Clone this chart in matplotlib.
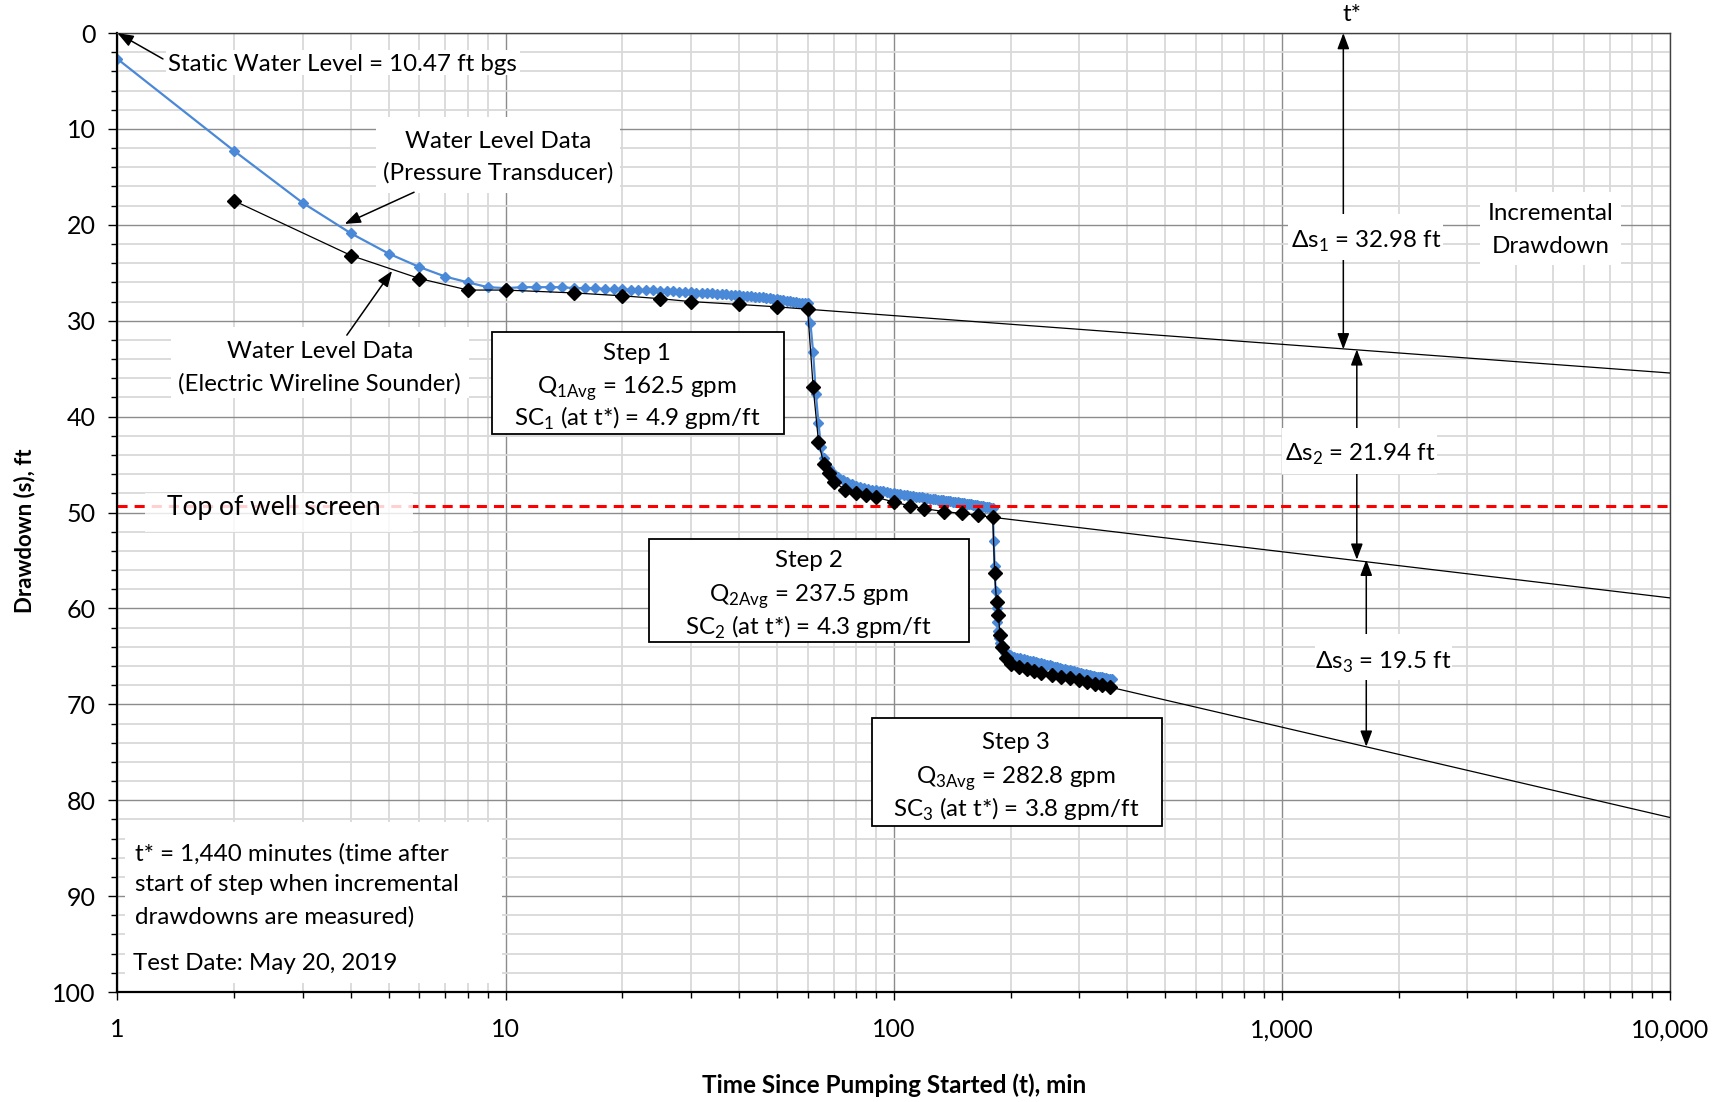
import matplotlib
matplotlib.use('Agg')
import matplotlib.pyplot as plt
import numpy as np
from matplotlib.patches import Rectangle
from matplotlib.ticker import MultipleLocator, LogLocator, FuncFormatter, NullFormatter

plt.rcParams['font.family'] = ['Lato', 'DejaVu Sans']

# pressure transducer readings (drawdown, ft)
pt_t1 = np.arange(1, 61)
pt_s1 = [2.7, 12.3, 17.7, 20.9, 23.0, 24.4, 25.4, 26.0, 26.5, 26.6,
         26.5, 26.5, 26.5, 26.5, 26.6, 26.6, 26.6, 26.7, 26.7, 26.7,
         26.8, 26.8, 26.8, 26.8, 26.9, 26.9, 26.9, 27.0, 27.0, 27.0,
         27.1, 27.1, 27.1, 27.1, 27.2, 27.2, 27.2, 27.3, 27.3, 27.3,
         27.4, 27.4, 27.4, 27.5, 27.5, 27.5, 27.6, 27.6, 27.7, 27.7,
         27.8, 27.8, 27.9, 27.9, 28.0, 28.0, 28.1, 28.1, 28.2, 28.2]

pt_t2 = list(range(61, 71)) + list(range(72, 181, 2))
pt_s2 = [30.2, 33.3, 37.6, 40.7, 43.2, 44.3, 44.9, 45.4, 45.8, 46.0,
         46.3, 46.6, 46.8, 47.0, 47.2, 47.3, 47.4, 47.5, 47.6, 47.7,
         47.8, 47.8, 47.9, 48.0, 48.0,
         48.1, 48.1, 48.2, 48.2, 48.3, 48.3, 48.4, 48.4, 48.4, 48.5,
         48.5, 48.6, 48.6, 48.6, 48.7, 48.7, 48.7, 48.8, 48.8, 48.8,
         48.9, 48.9, 48.9, 49.0, 49.0, 49.0, 49.1, 49.1, 49.1, 49.2,
         49.2, 49.2, 49.3, 49.3, 49.3, 49.4, 49.4, 49.4, 49.5, 49.5]

pt_t3 = list(range(181, 201)) + list(range(204, 365, 4))
pt_s3 = [53.0, 55.6, 58.2, 60.0, 61.4, 62.4, 63.1, 63.6, 63.9, 64.1,
         64.3, 64.4, 64.5, 64.6, 64.7, 64.8, 64.8, 64.9, 64.9, 65.0,
         65.1, 65.2, 65.2, 65.3, 65.4, 65.5, 65.5, 65.6, 65.7, 65.7,
         65.8, 65.9, 65.9, 66.0, 66.1, 66.1, 66.2, 66.3, 66.3, 66.4,
         66.4, 66.5, 66.5, 66.6, 66.7, 66.7, 66.8, 66.8, 66.9, 66.9,
         67.0, 67.0, 67.1, 67.1, 67.2, 67.2, 67.3, 67.3, 67.4, 67.4,
         67.4]

# electric wireline sounder readings
ws_t = [2, 4, 6, 8, 10, 15, 20, 25, 30, 40, 50, 60,
        62, 64, 66, 68, 70, 75, 80, 85, 90, 100, 110, 120, 135, 150, 165, 180,
        182, 184, 186, 188, 190, 195, 200, 210, 220, 230, 240, 255, 270, 285,
        300, 315, 330, 345, 360]
ws_s = [17.5, 23.2, 25.6, 26.8, 26.8, 27.1, 27.4, 27.7, 28.0, 28.3, 28.55, 28.8,
        36.9, 42.6, 44.9, 45.9, 46.8, 47.6, 48.0, 48.2, 48.4, 48.9, 49.3, 49.6,
        49.9, 50.1, 50.3, 50.5,
        56.3, 59.3, 60.7, 62.8, 64.0, 65.2, 65.8, 66.1, 66.3, 66.5, 66.7, 66.9,
        67.1, 67.3, 67.5, 67.7, 67.85, 68.0, 68.2]

# straight-line projection of each step out to 10,000 min
trend_t0 = [60, 180, 360]
trend_s0 = [28.8, 50.5, 68.2]
trend_t_end = 10000
trend_s_end = [35.45, 58.9, 81.8]

# incremental drawdown at t* for each step
delta_s = [32.98, 21.94, 19.5]
delta_t = [1440, 1560, 1650]

step_q = [162.5, 237.5, 282.8]
step_sc = [4.9, 4.3, 3.8]

screen_top = 49.3

fig = plt.figure(figsize=(17.22, 11.02), dpi=100)
ax = fig.add_axes([0.0682, 0.0998, 0.9016, 0.8702])

ax.set_xscale('log')
ax.set_xlim(1, 10000)
ax.set_ylim(100, 0)

ax.xaxis.set_major_locator(LogLocator(base=10))
ax.xaxis.set_minor_locator(LogLocator(base=10, subs=np.arange(2, 10)))
ax.xaxis.set_major_formatter(FuncFormatter(lambda v, p: '{:,.0f}'.format(v)))
ax.xaxis.set_minor_formatter(NullFormatter())
ax.yaxis.set_major_locator(MultipleLocator(10))
ax.yaxis.set_minor_locator(MultipleLocator(2))

ax.set_axisbelow(True)
ax.grid(which='minor', color='#d9d9d9', lw=1.3)
ax.grid(which='major', color='#8c8c8c', lw=1.0)

ax.tick_params(axis='both', which='both', direction='out', color='black', width=1.0)
ax.tick_params(axis='y', which='major', length=6.5, pad=9, labelsize=18)
ax.tick_params(axis='y', which='minor', length=4.5)
ax.tick_params(axis='x', which='major', length=6, pad=13, labelsize=18)
ax.tick_params(axis='x', which='minor', length=4)

for side in ['left', 'bottom']:
    ax.spines[side].set_linewidth(1.6)
    ax.spines[side].set_color('black')
for side in ['top', 'right']:
    ax.spines[side].set_linewidth(1.0)
    ax.spines[side].set_color('#404040')

ax.set_xlabel('Time Since Pumping Started (t), min', fontsize=17.5, fontweight='bold', va='center')
ax.xaxis.set_label_coords(0.5, -0.097)
ax.set_ylabel('Drawdown (s), ft', fontsize=16, fontweight='bold', va='center', ha='center')
ax.yaxis.set_label_coords(-0.0596, 0.4807)

# transducer data
blue = '#4a88d8'
pt_t = list(pt_t1) + pt_t2 + pt_t3
pt_s = pt_s1 + pt_s2 + pt_s3
ax.plot(pt_t, pt_s, color=blue, lw=1.6, marker='D', ms=5.0, mec=blue, mfc=blue, zorder=2)

ax.axhline(screen_top, color='#ff0000', lw=2.2, dashes=(3.3, 2.3), zorder=2.5)

# sounder data and projections
ax.plot(ws_t, ws_s, color='black', lw=0.9, marker='D', ms=7.2, mfc='black', mec='black', zorder=3)
for t0, s0, s1 in zip(trend_t0, trend_s0, trend_s_end):
    ax.plot([t0, trend_t_end], [s0, s1], color='black', lw=0.9, zorder=3)


def white_box(t0, t1, s0, s1, edge='none', lw=0.0, alpha=1.0, z=3.5):
    ax.add_patch(Rectangle((t0, s0), t1 - t0, s1 - s0, facecolor='white',
                           edgecolor=edge, lw=lw, alpha=alpha, zorder=z))


def arrow(tail, head, both=False, z=4):
    style = '<|-|>' if both else '-|>'
    ax.annotate('', xy=head, xytext=tail, annotation_clip=False,
                arrowprops=dict(arrowstyle=style + ',head_length=0.48,head_width=0.18',
                                mutation_scale=20, color='black', lw=1.1,
                                shrinkA=0, shrinkB=0), zorder=z)


fs = 17.4

# static water level
white_box(1.33, 10.9, 1.8, 4.4)
ax.text(1.349, 3.1, 'Static Water Level = 10.47 ft bgs', fontsize=fs,
        ha='left', va='center_baseline', zorder=5)
arrow((1.31, 2.7), (1, 0))

# series call-outs
white_box(4.64, 19.7, 8.8, 16.7)
ax.text(9.55, 11.1, 'Water Level Data', fontsize=fs, ha='center', va='center_baseline', zorder=5)
ax.text(9.55, 14.4, '(Pressure Transducer)', fontsize=fs, ha='center', va='center_baseline', zorder=5)
arrow((5.81, 16.6), (3.85, 19.9))

white_box(1.374, 8.05, 30.7, 38.1)
ax.text(3.32, 33.0, 'Water Level Data', fontsize=fs, ha='center', va='center_baseline', zorder=5)
ax.text(3.32, 36.4, '(Electric Wireline Sounder)', fontsize=fs, ha='center', va='center_baseline', zorder=5)
arrow((3.90, 31.5), (5.10, 24.8))

# top of screen label
white_box(1.177, 5.78, 48.0, 52.0, alpha=0.82)
ax.text(1.339, 49.2, 'Top of well screen', fontsize=19, ha='left',
        va='center_baseline', zorder=5)

# step boxes
step_boxes = [(9.23, 52.2, 31.14, 41.78, 21.8, [33.2, 36.6, 39.9]),
              (23.4, 156, 52.8, 63.5, 60.3, [54.8, 58.3, 61.7]),
              (88.1, 491, 71.4, 82.7, 206.5, [73.8, 77.3, 80.6])]
for i, (t0, t1, s0, s1, tc, rows) in enumerate(step_boxes):
    n = i + 1
    white_box(t0, t1, s0, s1, edge='black', lw=1.3)
    lines = ['Step %d' % n,
             'Q$_\\mathregular{%dAvg}$ = %.1f gpm' % (n, step_q[i]),
             'SC$_\\mathregular{%d}$ (at t*) = %.1f gpm/ft' % (n, step_sc[i])]
    for txt, s in zip(lines, rows):
        ax.text(tc, s, txt, fontsize=fs, ha='center', va='center_baseline', zorder=5)

# incremental drawdown arrows, labels sit on top of them
bottoms = np.cumsum(delta_s)
tops = bottoms - np.array(delta_s)
for t, s0, s1 in zip(delta_t, tops, bottoms):
    arrow((t, s0), (t, s1), both=True, z=3.2)

label_boxes = [(1039, 2608, 18.9, 23.7, 1646, 21.4),
               (1001, 2512, 41.2, 46.0, 1589, 43.6),
               (1220, 2746, 62.7, 67.5, 1821, 65.3)]
for i, (t0, t1, s0, s1, tc, sc) in enumerate(label_boxes):
    white_box(t0, t1, s0, s1)
    ax.text(tc, sc, '\u0394s$_\\mathregular{%d}$ = %g ft' % (i + 1, delta_s[i]),
            fontsize=fs, ha='center', va='center_baseline', zorder=5)

white_box(3249, 7486, 16.6, 24.2)
ax.text(4920, 18.6, 'Incremental', fontsize=fs, ha='center', va='center_baseline', zorder=5)
ax.text(4920, 22.0, 'Drawdown', fontsize=fs, ha='center', va='center_baseline', zorder=5)

ax.text(1517, 1.019, 't*', fontsize=fs, ha='center', va='center',
        transform=ax.get_xaxis_transform(), clip_on=False)

# notes
white_box(1.045, 9.8, 82.3, 99.1)
notes = ['t* = 1,440 minutes (time after', 'start of step when incremental',
         'drawdowns are measured)']
for txt, s in zip(notes, [85.4, 88.6, 92.0]):
    ax.text(1.11, s, txt, fontsize=fs, ha='left', va='center_baseline', zorder=5)
ax.text(1.096, 96.8, 'Test Date: May 20, 2019', fontsize=fs, ha='left',
        va='center_baseline', zorder=5)

fig.savefig('out.png', dpi=100, facecolor='white')
